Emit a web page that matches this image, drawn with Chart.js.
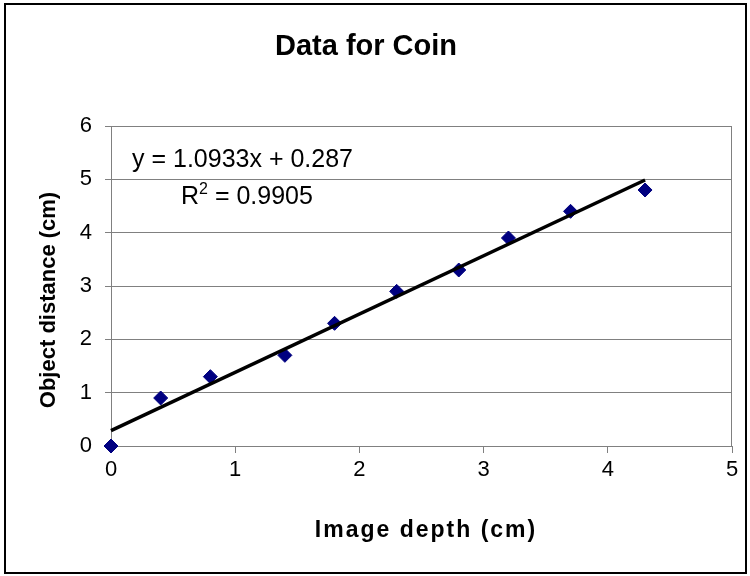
<!DOCTYPE html>
<html><head><meta charset="utf-8">
<script src="https://cdn.jsdelivr.net/npm/chart.js@4.4.1/dist/chart.umd.min.js"></script>
<style>html,body{margin:0;padding:0;background:#fff}#wrap{width:750px;height:576px;position:relative}</style>
</head><body><div id="wrap"><canvas id="c" width="750" height="576"></canvas></div>
<script>
const chartTitle = 'Data for Coin';
const xAxisTitle = 'Image depth (cm)';
const yAxisTitle = 'Object distance (cm)';
const imageDepth = [0, 0.4, 0.8, 1.4, 1.8, 2.3, 2.8, 3.2, 3.7, 4.3];
const objectDistance = [0, 0.9, 1.3, 1.7, 2.3, 2.9, 3.3, 3.9, 4.4, 4.8];
const trendX = [0, 4.3];
const trendY = [0.287, 4.988];
const equationText = 'y = 1.0933x + 0.287';
const r2Text = ' = 0.9905';
const xTickValues = [0, 1, 2, 3, 4, 5];
const yTickValues = [0, 1, 2, 3, 4, 5, 6];

const FONT = '"Liberation Sans", Arial, sans-serif';
const GRID = '#808080';

const decor = {
  id: 'decor',
  beforeDraw(chart) {
    const ctx = chart.ctx;
    ctx.save();
    ctx.fillStyle = '#fff';
    ctx.fillRect(0, 0, chart.width, chart.height);
    ctx.restore();
  },
  afterDraw(chart) {
    const ctx = chart.ctx, a = chart.chartArea;
    ctx.save();
    // outer frame
    ctx.strokeStyle = '#000';
    ctx.lineWidth = 2;
    ctx.strokeRect(5, 4, 741, 569);
    // right plot border
    ctx.strokeStyle = GRID;
    ctx.lineWidth = 1;
    ctx.beginPath();
    ctx.moveTo(Math.round(a.right) - 0.5, a.top);
    ctx.lineTo(Math.round(a.right) - 0.5, a.bottom);
    ctx.stroke();
    // equation
    ctx.fillStyle = '#000';
    ctx.textAlign = 'left';
    ctx.textBaseline = 'alphabetic';
    ctx.font = '25px ' + FONT;
    ctx.fillText(equationText, 132, 167);
    let x = 181;
    ctx.fillText('R', x, 204);
    x += ctx.measureText('R').width;
    ctx.font = '16px ' + FONT;
    ctx.fillText('2', x, 194);
    x += ctx.measureText('2').width;
    ctx.font = '25px ' + FONT;
    ctx.fillText(r2Text, x, 204);
    // x axis title
    ctx.font = 'bold 23px ' + FONT;
    ctx.textAlign = 'center';
    ctx.letterSpacing = '2px';
    ctx.fillText(xAxisTitle, 426, 537);
    ctx.letterSpacing = '0px';
    // y axis title
    ctx.translate(49, 300);
    ctx.rotate(-Math.PI / 2);
    ctx.font = 'bold 22px ' + FONT;
    ctx.textBaseline = 'middle';
    ctx.fillText(yAxisTitle, 0, 0);
    ctx.restore();
  }
};

new Chart(document.getElementById('c'), {
  type: 'scatter',
  data: {
    datasets: [
      {
        type: 'line',
        label: 'Trend',
        data: trendX.map((v, i) => ({ x: v, y: trendY[i] })),
        borderColor: '#000',
        borderWidth: 3.5,
        pointRadius: 0,
        fill: false,
        order: 0,
        clip: false
      },
      {
        label: 'Data',
        data: imageDepth.map((v, i) => ({ x: v, y: objectDistance[i] })),
        pointStyle: 'rectRot',
        pointRadius: 7,
        backgroundColor: '#000080',
        borderColor: '#000080',
        borderWidth: 1,
        order: 1,
        clip: false
      }
    ]
  },
  options: {
    responsive: false,
    animation: false,
    devicePixelRatio: 1,
    layout: { padding: { left: 0, right: 18, top: 0, bottom: 0 } },
    plugins: {
      legend: { display: false },
      tooltip: { enabled: false },
      title: {
        display: true,
        text: chartTitle,
        color: '#000',
        font: { family: FONT, size: 29, weight: 'bold' },
        padding: { top: 30, bottom: 61.2 }
      }
    },
    scales: {
      x: {
        type: 'linear',
        min: 0, max: 5,
        afterFit(s) { s.height = 130; },
        afterBuildTicks(s) { s.ticks = xTickValues.map(v => ({ value: v })); },
        grid: { drawOnChartArea: false, drawTicks: true, tickLength: 7, color: GRID },
        border: { color: GRID, width: 1 },
        ticks: { color: '#000', font: { family: FONT, size: 22 }, padding: 4, maxRotation: 0 }
      },
      y: {
        type: 'linear',
        min: 0, max: 6,
        afterFit(s) { s.width = 111; },
        afterBuildTicks(s) { s.ticks = yTickValues.map(v => ({ value: v })); },
        grid: { drawTicks: true, tickLength: 6, color: GRID, lineWidth: 1 },
        border: { color: GRID, width: 1 },
        ticks: { color: '#000', font: { family: FONT, size: 22 }, padding: 13 }
      }
    }
  },
  plugins: [decor]
});
</script>
</body></html>
